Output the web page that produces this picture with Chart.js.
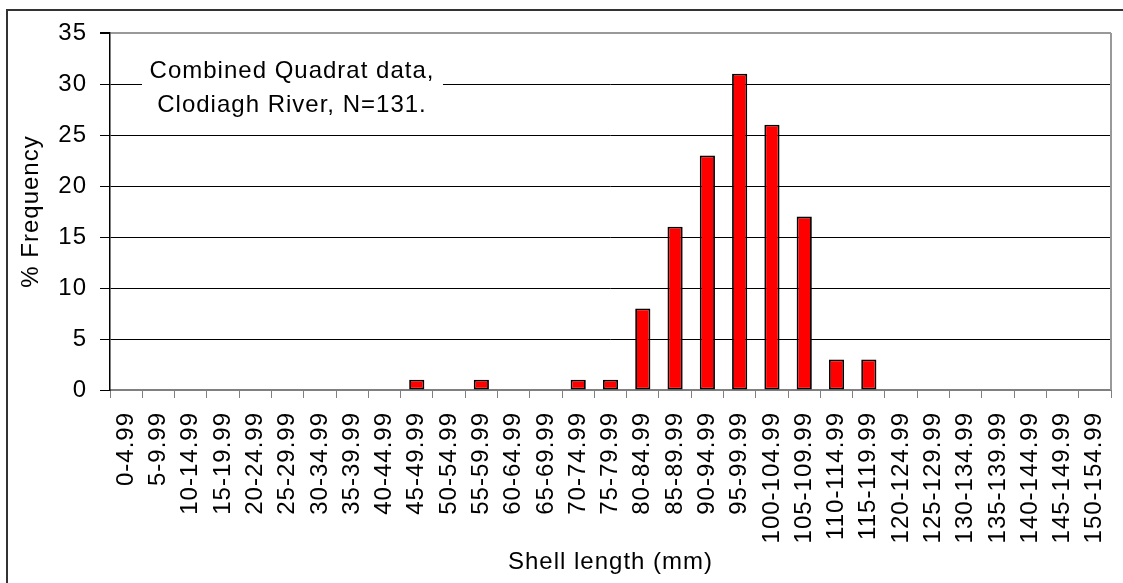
<!DOCTYPE html>
<html>
<head>
<meta charset="utf-8">
<script src="https://cdn.jsdelivr.net/npm/chart.js@4.4.1/dist/chart.umd.min.js"></script>
<style>
  html, body { margin: 0; padding: 0; background: #fff; }
  #wrap { width: 1123px; height: 583px; position: relative; }
</style>
</head>
<body>
<div id="wrap"><canvas id="shellChart"></canvas></div>
<script>
// size classes (mm) and % frequency
const sizeClasses = [
  '0-4.99', '5-9.99', '10-14.99', '15-19.99', '20-24.99', '25-29.99', '30-34.99',
  '35-39.99', '40-44.99', '45-49.99', '50-54.99', '55-59.99', '60-64.99', '65-69.99',
  '70-74.99', '75-79.99', '80-84.99', '85-89.99', '90-94.99', '95-99.99', '100-104.99',
  '105-109.99', '110-114.99', '115-119.99', '120-124.99', '125-129.99', '130-134.99',
  '135-139.99', '140-144.99', '145-149.99', '150-154.99'
];
const frequency = [
  0, 0, 0, 0, 0, 0, 0, 0, 0, 1, 0, 1, 0, 0, 1, 1, 8, 16, 23, 31, 26, 17, 3, 3,
  0, 0, 0, 0, 0, 0, 0
];
const yMin = 0;
const yMax = 35;
const yStep = 5;
const noteLines = ['Combined Quadrat data,', 'Clodiagh River, N=131.'];
const xTitle = 'Shell length (mm)';
const yTitle = '% Frequency';

const FONT = 'Arial, "Liberation Sans", sans-serif';

// excel style text is a bit spaced out
const spacing = {
  id: 'spacing',
  beforeUpdate(chart) { chart.ctx.letterSpacing = '1px'; },
  beforeDraw(chart) { chart.ctx.letterSpacing = '1px'; }
};

// white page + outer chart frame
const frame = {
  id: 'frame',
  beforeDraw(chart) {
    const c = chart.ctx;
    c.save();
    c.fillStyle = '#fff';
    c.fillRect(0, 0, chart.width, chart.height);
    c.strokeStyle = '#333';
    c.lineWidth = 2;
    c.beginPath();
    c.moveTo(7, chart.height);
    c.lineTo(7, 10);
    c.lineTo(chart.width, 10);
    c.stroke();
    c.restore();
  },
  beforeDatasetsDraw(chart) {
    const a = chart.chartArea;
    const c = chart.ctx;
    c.save();
    c.strokeStyle = '#999';
    c.lineWidth = 2;
    c.beginPath();
    c.moveTo(a.right, a.top);
    c.lineTo(a.right, a.bottom);
    c.stroke();
    c.restore();
  }
};

// the text box in the top left corner
const note = {
  id: 'note',
  afterDatasetsDraw(chart) {
    const c = chart.ctx;
    c.save();
    c.fillStyle = '#fff';
    c.fillRect(142, 52, 301, 70);
    c.fillStyle = '#000';
    c.font = '24px ' + FONT;
    c.textAlign = 'center';
    c.textBaseline = 'middle';
    c.fillText(noteLines[0], 292, 71);
    c.fillText(noteLines[1], 292, 105);
    c.restore();
  }
};

const ctx = document.getElementById('shellChart').getContext('2d');
new Chart(ctx, {
  type: 'bar',
  data: {
    labels: sizeClasses,
    datasets: [{
      data: frequency,
      backgroundColor: '#ff0000',
      borderColor: '#000',
      borderWidth: c => (c.raw ? 1.8 : 0),
      borderSkipped: false,
      barPercentage: 0.47,
      categoryPercentage: 1
    }]
  },
  options: {
    responsive: true,
    maintainAspectRatio: false,
    animation: false,
    devicePixelRatio: 1,
    layout: { padding: { top: 33, right: 12, left: 0, bottom: 0 } },
    plugins: {
      legend: { display: false },
      tooltip: { enabled: false }
    },
    scales: {
      x: {
        grid: {
          offset: true,
          drawOnChartArea: false,
          drawTicks: true,
          tickLength: 8,
          color: '#808080'
        },
        border: { color: '#808080', width: 2 },
        ticks: {
          autoSkip: false,
          minRotation: 90,
          maxRotation: 90,
          padding: 14,
          color: '#000',
          font: { family: FONT, size: 24 }
        },
        title: {
          display: true,
          text: xTitle,
          color: '#000',
          font: { family: FONT, size: 24 },
          padding: { top: 0, bottom: 6 }
        },
        afterFit: s => {
          s.height = 193;
          s.paddingLeft = 0;
          s.paddingRight = 0;
        }
      },
      y: {
        min: yMin,
        max: yMax,
        ticks: {
          stepSize: yStep,
          padding: 13,
          color: '#000',
          font: { family: FONT, size: 24 }
        },
        grid: {
          color: c => (c.tick.value === yMax ? '#999' : c.tick.value === yMin ? '#808080' : '#000'),
          lineWidth: c => (c.tick.value === yMax ? 2 : 1),
          tickColor: '#000',
          tickLength: 10
        },
        border: { color: '#000', width: 1.5 },
        title: {
          display: true,
          text: yTitle,
          color: '#000',
          font: { family: FONT, size: 24 },
          padding: { top: 17, bottom: 0 }
        },
        afterFit: s => { s.width = 110; }
      }
    }
  },
  plugins: [spacing, frame, note]
});
</script>
</body>
</html>
